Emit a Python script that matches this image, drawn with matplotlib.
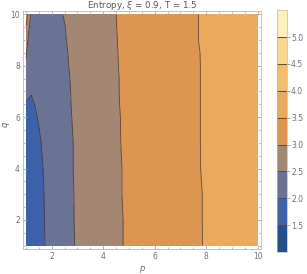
import matplotlib
matplotlib.use("Agg")
import matplotlib.pyplot as plt
import numpy as np

# grid
p_vals = [1.0, 1.1, 1.2, 1.35, 1.5, 1.75, 2.0, 2.5, 3.0, 4.0, 5.0, 6.5, 8.0, 10.0]
q_vals = [1, 2, 3, 4, 5, 6, 6.5, 7, 7.5, 8, 8.5, 9, 9.5, 10]

# entropy values, one row per q
entropy = [
    [1.56, 1.58, 1.64, 1.75, 1.85, 2.01, 2.14, 2.36, 2.54, 2.83, 3.05, 3.31, 3.52, 3.75],
    [1.57, 1.59, 1.65, 1.76, 1.86, 2.02, 2.14, 2.36, 2.55, 2.83, 3.05, 3.32, 3.52, 3.74],
    [1.60, 1.62, 1.67, 1.78, 1.88, 2.03, 2.15, 2.37, 2.55, 2.84, 3.06, 3.32, 3.52, 3.74],
    [1.65, 1.66, 1.70, 1.80, 1.91, 2.05, 2.17, 2.38, 2.56, 2.84, 3.06, 3.32, 3.53, 3.75],
    [1.73, 1.74, 1.77, 1.85, 1.95, 2.09, 2.20, 2.38, 2.56, 2.85, 3.07, 3.33, 3.53, 3.75],
    [1.86, 1.87, 1.89, 1.96, 2.03, 2.14, 2.24, 2.40, 2.58, 2.86, 3.07, 3.33, 3.53, 3.75],
    [1.97, 1.96, 1.95, 2.01, 2.07, 2.17, 2.27, 2.41, 2.59, 2.86, 3.08, 3.33, 3.53, 3.75],
    [2.10, 2.05, 2.02, 2.05, 2.10, 2.20, 2.29, 2.42, 2.59, 2.87, 3.08, 3.33, 3.53, 3.75],
    [2.24, 2.15, 2.10, 2.11, 2.14, 2.23, 2.32, 2.43, 2.60, 2.87, 3.08, 3.33, 3.53, 3.75],
    [2.40, 2.25, 2.18, 2.17, 2.19, 2.26, 2.34, 2.45, 2.61, 2.87, 3.09, 3.33, 3.53, 3.75],
    [2.58, 2.25, 2.17, 2.17, 2.20, 2.28, 2.36, 2.46, 2.62, 2.88, 3.09, 3.34, 3.53, 3.75],
    [2.79, 2.41, 2.27, 2.24, 2.26, 2.32, 2.39, 2.48, 2.63, 2.89, 3.09, 3.34, 3.54, 3.75],
    [2.98, 2.60, 2.25, 2.26, 2.29, 2.35, 2.40, 2.49, 2.64, 2.89, 3.10, 3.34, 3.54, 3.75],
    [3.25, 2.83, 2.42, 2.34, 2.33, 2.35, 2.38, 2.52, 2.66, 2.90, 3.10, 3.34, 3.54, 3.75],
]

levels = [1.0, 1.5, 2.0, 2.5, 3.0, 3.5, 4.0, 4.5, 5.0, 5.5]
band_colors = ['#26508c', '#3d62a9', '#6b7395', '#a48772', '#dc9651',
               '#eaa95d', '#f2bd6d', '#fad58b', '#fef0bc']
cbar_ticks = [1.5, 2.0, 2.5, 3.0, 3.5, 4.0, 4.5, 5.0]

P, Q = np.meshgrid(p_vals, q_vals)
Z = np.array(entropy)

fig = plt.figure(figsize=(3.07, 2.74), dpi=100)
ax = fig.add_axes([0.0739, 0.0912, 0.7761, 0.8687])
cf = ax.contourf(P, Q, Z, levels=levels, colors=band_colors)
ax.contour(P, Q, Z, levels=levels[1:-1], colors='#222222', linewidths=0.6, alpha=0.7)

ax.set_xlim(0.87, 10.13)
ax.set_ylim(0.87, 10.13)
ax.set_xticks([2, 4, 6, 8, 10])
ax.set_yticks([2, 4, 6, 8, 10])
ax.set_xticks(np.arange(1.0, 10.01, 0.5), minor=True)
ax.set_yticks(np.arange(1.0, 10.01, 0.5), minor=True)
ax.tick_params(which='both', direction='in', top=True, right=True, color='#9a9a9a',
               width=0.5, labelsize=5.5, labelcolor='#707070', pad=2)
ax.tick_params(which='major', length=3)
ax.tick_params(which='minor', length=1.5)
for s in ax.spines.values():
    s.set_color('#b8b8b8')
    s.set_linewidth(0.6)

fig.text(0.463, 0.981, r'Entropy, $\xi$ = 0.9, T = 1.5', fontsize=6.3,
         color='#555555', ha='center', va='center')
fig.text(0.463, 0.02, 'p', fontsize=6, color='#666666', style='italic',
         ha='center', va='center')
fig.text(0.017, 0.547, 'q', fontsize=6, color='#666666', style='italic',
         ha='center', va='center', rotation=90)

cax = fig.add_axes([0.902, 0.080, 0.0326, 0.883])
cb = fig.colorbar(cf, cax=cax, ticks=cbar_ticks)
cb.ax.set_ylim(1.0, 5.5)
for v in cbar_ticks:
    cax.axhline(v, color='#5a4a35', linewidth=0.7)
cb.outline.set_edgecolor('#b8b8b8')
cb.outline.set_linewidth(0.5)
cax.tick_params(direction='out', length=2, width=0.5, color='#8a8a8a',
                labelsize=5.5, labelcolor='#707070', pad=1)
cax.set_yticklabels(['%.1f' % t for t in cbar_ticks])

fig.savefig('out.png', dpi=100)
